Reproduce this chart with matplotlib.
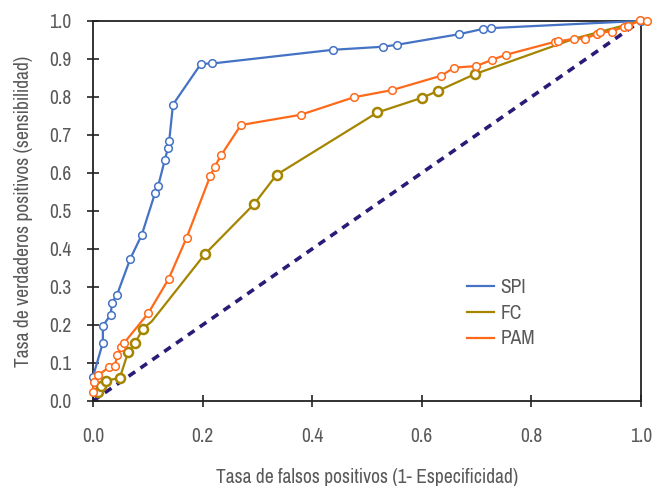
import matplotlib
matplotlib.use("Agg")
import matplotlib.pyplot as plt
from matplotlib import font_manager

# look for a narrow sans font, like the Arial Narrow of the original
fam = 'Liberation Sans'
stretch = 'normal'
cands = []
for f in font_manager.fontManager.ttflist:
    if f.style != 'normal' or f.weight not in (400, 'normal', 'regular'):
        continue
    if 'Narrow' in f.name or 'Condensed' in f.name:
        cands.append((0 if 'Liberation' in f.name else 1, f.name, 'normal'))
    elif f.stretch in ('condensed', 'semi-condensed') and 'Sans' in f.name:
        cands.append((2, f.name, f.stretch))
if cands:
    cands.sort()
    fam, stretch = cands[0][1], cands[0][2]
plt.rcParams['font.family'] = [fam, 'DejaVu Sans']
plt.rcParams['font.stretch'] = stretch

# SPI curve
spi_x = [0.0, 0.018, 0.018, 0.032, 0.035, 0.044, 0.068, 0.089, 0.113, 0.119,
         0.131, 0.137, 0.139, 0.146, 0.197, 0.218, 0.438, 0.529, 0.554, 0.668,
         0.712, 0.726, 1.0]
spi_y = [0.064, 0.153, 0.198, 0.226, 0.259, 0.28, 0.374, 0.437, 0.546, 0.566,
         0.634, 0.666, 0.683, 0.78, 0.887, 0.888, 0.924, 0.932, 0.937, 0.965,
         0.979, 0.981, 1.0]

# FC curve (bend at index 7 and the end points sit under other marks)
fc_x = [0.009, 0.014, 0.024, 0.049, 0.064, 0.077, 0.091, 0.107, 0.204, 0.294,
        0.335, 0.519, 0.601, 0.630, 0.697, 0.878, 1.0]
fc_y = [0.023, 0.039, 0.053, 0.061, 0.128, 0.153, 0.190, 0.209, 0.386, 0.518,
        0.595, 0.759, 0.798, 0.816, 0.860, 0.953, 1.0]
fc_marked = [i for i in range(len(fc_x) - 2) if i != 7]

# PAM curve
pam_x = [0.0, 0.001, 0.010, 0.030, 0.040, 0.044, 0.051, 0.057, 0.101, 0.138,
         0.171, 0.214, 0.222, 0.234, 0.270, 0.379, 0.476, 0.546, 0.636, 0.659,
         0.699, 0.729, 0.754, 0.843, 0.849, 0.878, 0.898, 0.920, 0.926, 0.947,
         0.969, 0.976, 0.999, 1.012]
pam_y = [0.023, 0.049, 0.068, 0.090, 0.092, 0.120, 0.143, 0.153, 0.231, 0.321,
         0.430, 0.592, 0.616, 0.647, 0.726, 0.753, 0.799, 0.818, 0.856, 0.877,
         0.881, 0.898, 0.911, 0.945, 0.946, 0.953, 0.953, 0.966, 0.970, 0.972,
         0.985, 0.986, 1.002, 0.999]

ticks = [0.0, 0.2, 0.4, 0.6, 0.8, 1.0]
yticks = [0.0, 0.1, 0.2, 0.3, 0.4, 0.5, 0.6, 0.7, 0.8, 0.9, 1.0]

gray = '#595959'
fs = 13 if fam == 'Liberation Sans' else 14
fig = plt.figure(figsize=(6.54, 4.86), dpi=100)
ax = fig.add_axes([0.1422, 0.175, 0.8378, 0.782])

ax.plot([0, 1], [0, 1], color='#2B1B78', lw=2.6, ls=(0, (2.2, 1.8)), zorder=1)

ax.plot(spi_x, spi_y, color='#4472C4', lw=1.6, marker='o', ms=5.5,
        mfc='white', mec='#4472C4', mew=1.1, label='SPI', clip_on=False, zorder=3)
ax.plot(fc_x, fc_y, color='#A58500', lw=1.6, marker='o', ms=6.5,
        mfc='white', mec='#A58500', mew=1.8, markevery=fc_marked, label='FC',
        clip_on=False, zorder=3)
ax.plot(pam_x, pam_y, color='#FF6A1A', lw=1.6, marker='o', ms=5.5,
        mfc='white', mec='#FF6A1A', mew=1.1, label='PAM', clip_on=False, zorder=4)

ax.set_xlim(0, 1)
ax.set_ylim(0, 1)
ax.set_xticks(ticks)
ax.set_yticks(yticks)
ax.set_xticklabels(['%.1f' % t for t in ticks])
ax.set_yticklabels(['%.1f' % t for t in yticks])

for s in ax.spines.values():
    s.set_linewidth(1.3)
    s.set_color('#222222')

ax.tick_params(axis='both', direction='inout', length=9, width=1.2,
               colors='#222222', labelcolor=gray, labelsize=fs)
ax.tick_params(axis='x', pad=14)
ax.tick_params(axis='y', pad=11)

ax.set_xlabel('Tasa de falsos positivos (1- Especificidad)', fontsize=fs,
              color=gray, labelpad=16)
ax.set_ylabel('Tasa de verdaderos positivos (sensibilidad)', fontsize=fs,
              color=gray, labelpad=12)

leg = ax.legend(handles=[plt.Line2D([], [], color='#4472C4', lw=1.6),
                         plt.Line2D([], [], color='#A58500', lw=1.6),
                         plt.Line2D([], [], color='#FF6A1A', lw=1.6)],
                labels=['SPI', 'FC', 'PAM'],
                loc='upper left', bbox_to_anchor=(0.65, 0.37), frameon=False,
                fontsize=fs, handlelength=1.4, handletextpad=0.35, labelspacing=0.35)
for t in leg.get_texts():
    t.set_color(gray)

fig.savefig('out.png', dpi=100)
